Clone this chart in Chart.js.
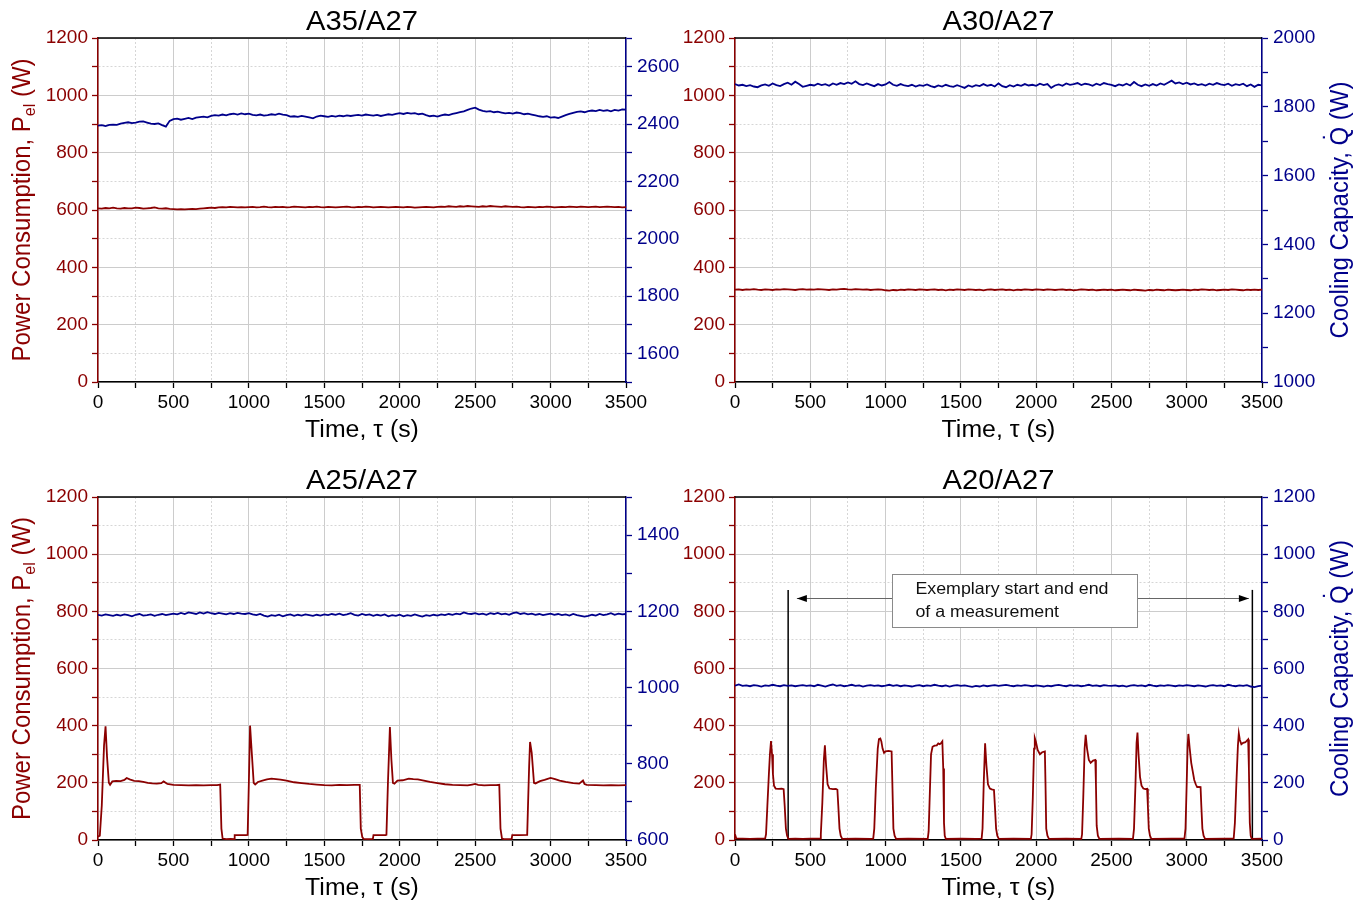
<!DOCTYPE html>
<html><head><meta charset="utf-8">
<script src="https://cdn.jsdelivr.net/npm/chart.js@4/dist/chart.umd.min.js"></script>
<style>
html,body{margin:0;padding:0;background:#fff;}
#wrap{position:relative;width:1367px;height:904px;overflow:hidden;background:#fff;}
canvas{position:absolute;}
</style></head><body><div id="wrap">
<canvas id="c1" width="680" height="452" style="left:0;top:0"></canvas>
<canvas id="c2" width="687" height="452" style="left:680px;top:0"></canvas>
<canvas id="c3" width="680" height="452" style="left:0;top:452px"></canvas>
<canvas id="c4" width="687" height="452" style="left:680px;top:452px"></canvas>
</div>
<script>
// ---------- DATA ----------
const timeGrid = [
0,25,50,75,100,125,150,175,200,225,250,275,300,325,350,375,400,425,450,475,
500,525,550,575,600,625,650,675,700,725,750,775,800,825,850,875,900,925,950,975,
1000,1025,1050,1075,1100,1125,1150,1175,1200,1225,1250,1275,1300,1325,1350,1375,1400,1425,1450,1475,
1500,1525,1550,1575,1600,1625,1650,1675,1700,1725,1750,1775,1800,1825,1850,1875,1900,1925,1950,1975,
2000,2025,2050,2075,2100,2125,2150,2175,2200,2225,2250,2275,2300,2325,2350,2375,2400,2425,2450,2475,
2500,2525,2550,2575,2600,2625,2650,2675,2700,2725,2750,2775,2800,2825,2850,2875,2900,2925,2950,2975,
3000,3025,3050,3075,3100,3125,3150,3175,3200,3225,3250,3275,3300,3325,3350,3375,3400,3425,3450,3475,
3500];

const a35Power = [
606,605,607,606,608,606,605,607,606,606,608,607,605,606,607,609,606,605,606,
604,603,602,603,602,603,604,603,605,
606,607,608,607,609,610,609,611,610,609,610,
609,610,611,609,610,612,610,609,611,610,611,609,610,612,611,610,609,611,610,612,
610,609,611,610,609,610,611,612,610,609,611,610,612,611,609,610,611,610,609,610,611,
610,609,611,610,608,609,610,611,610,609,611,612,611,613,612,611,613,612,614,613,
612,611,613,612,614,613,612,611,613,612,611,612,610,609,611,610,609,611,610,612,
611,609,610,611,610,612,611,610,612,611,610,611,612,610,611,612,611,610,611,609,610];
const a35Cooling = [
2394,2396,2393,2397,2398,2397,2401,2404,2406,2403,2405,2408,2409,2405,2401,2400,2402,2396,2391,2411,
2417,2419,2415,2418,2421,2417,2422,2424,2426,2423,2428,2431,2429,2433,2430,2434,2436,2433,2437,2434,
2436,2432,2430,2433,2429,2431,2434,2432,2436,2433,2431,2426,2427,2425,2428,2426,2423,2420,2426,2429,
2427,2425,2428,2426,2429,2427,2430,2428,2430,2432,2429,2433,2431,2429,2432,2428,2431,2434,2432,2435,
2438,2435,2439,2436,2438,2434,2436,2431,2427,2429,2426,2430,2433,2431,2435,2438,2441,2444,2449,2454,
2457,2450,2446,2443,2445,2441,2443,2440,2437,2439,2436,2440,2438,2434,2436,2433,2430,2427,2425,2427,
2422,2424,2421,2426,2431,2435,2439,2442,2444,2441,2445,2447,2445,2449,2446,2448,2444,2449,2447,2451,
2450];

const a30Power = [
322,323,321,323,322,324,322,321,323,322,321,323,322,324,323,322,321,323,324,322,
323,322,324,323,322,321,323,322,324,325,323,322,324,323,322,323,321,322,323,322,
320,319,321,320,322,321,323,322,321,323,322,321,322,323,321,322,320,322,321,323,
322,321,323,322,321,322,320,322,323,321,322,323,321,322,320,322,321,323,322,321,
323,322,321,323,322,321,322,323,321,322,320,321,323,322,321,322,320,321,322,321,
322,320,321,322,321,320,322,321,320,319,321,320,322,321,320,322,321,320,321,322,
321,320,322,321,323,322,321,322,320,321,322,321,323,322,321,320,322,321,322,321,
322];
const a30Cooling = [
1866,1862,1864,1860,1863,1859,1857,1862,1865,1861,1868,1863,1860,1866,1870,1864,1873,1866,1858,1861,
1864,1862,1867,1863,1866,1861,1868,1864,1869,1866,1871,1867,1874,1866,1863,1868,1864,1860,1866,1862,
1865,1872,1864,1861,1866,1862,1860,1864,1859,1863,1861,1865,1860,1857,1862,1859,1864,1860,1858,1863,
1859,1855,1862,1858,1863,1860,1866,1861,1864,1859,1868,1860,1857,1863,1859,1864,1861,1866,1862,1864,
1861,1867,1863,1866,1855,1862,1865,1861,1868,1864,1866,1869,1863,1867,1865,1861,1867,1863,1869,1866,
1864,1860,1865,1862,1867,1862,1872,1864,1860,1865,1861,1866,1862,1868,1864,1870,1876,1868,1871,1866,
1870,1865,1868,1863,1866,1862,1867,1864,1869,1865,1863,1867,1861,1866,1863,1867,1860,1865,1858,1864,
1862];

const a25Times = [
0,12,25,40,50,60,72,80,95,120,
150,175,190,210,240,270,300,330,360,390,
420,435,460,500,550,600,650,700,750,790,
810,818,826,850,880,903,906,940,980,992,
1000,1008,1020,1032,1042,1060,1090,1120,1150,1180,
1210,1250,1300,1350,1400,1450,1500,1550,1600,1650,
1700,1735,1742,1752,1760,1790,1822,1826,1860,1905,
1912,1922,1935,1945,1955,1965,1985,2020,2060,2090,
2120,2160,2200,2250,2300,2350,2400,2450,2480,2500,
2520,2560,2600,2640,2660,2668,2678,2690,2720,2742,
2746,2790,2845,2852,2858,2864,2875,2890,2900,2930,
2960,3000,3030,3060,3100,3150,3190,3215,3225,3240,
3300,3350,3400,3450,3500];
const a25Power = [
12,15,120,330,398,290,200,193,205,207,
206,210,217,212,207,206,203,200,198,197,
199,205,196,193,192,191,192,191,192,192,
194,40,5,3,4,3,17,17,17,18,
200,400,300,200,194,203,208,212,215,213,
211,208,202,199,196,194,192,191,193,192,
193,193,40,10,4,3,4,17,17,17,
18,200,395,280,200,197,208,209,215,213,
212,208,203,199,195,193,192,191,194,196,
193,191,192,192,193,40,5,3,3,4,
17,17,18,150,260,343,305,200,198,206,
210,217,213,208,203,199,197,208,196,193,
192,191,192,191,192];
const a25Cooling = [
1191,1189,1192,1190,1188,1191,1189,1192,1190,1187,1191,1193,1189,1190,1192,1188,1191,1193,1190,1192,
1194,1192,1196,1193,1197,1195,1193,1197,1194,1198,1195,1193,1196,1194,1192,1195,1193,1196,1194,1193,
1195,1192,1190,1193,1189,1186,1190,1188,1191,1187,1190,1192,1188,1191,1189,1192,1190,1188,1191,1189,
1192,1190,1193,1191,1194,1190,1192,1195,1191,1189,1193,1190,1192,1188,1191,1189,1192,1187,1190,1188,
1191,1187,1190,1188,1192,1189,1186,1190,1188,1191,1189,1192,1190,1193,1191,1194,1192,1197,1194,1193,
1195,1192,1194,1191,1195,1193,1196,1192,1194,1191,1195,1197,1193,1195,1192,1194,1191,1193,1190,1192,
1194,1191,1193,1190,1192,1189,1193,1190,1188,1186,1188,1191,1189,1193,1190,1192,1195,1191,1194,1192,
1193];

const a20Times = [
0,8,50,100,150,200,206,215,225,232,
239,246,252,259,270,290,310,323,330,338,
346,355,400,450,500,565,570,580,590,597,
605,615,627,650,670,680,686,694,702,712,
800,900,918,925,935,948,956,965,972,980,
990,1000,1020,1040,1045,1052,1060,1070,1150,1280,
1286,1292,1302,1312,1325,1340,1350,1360,1370,1377,
1383,1388,1393,1400,1500,1600,1638,1644,1652,1661,
1670,1680,1693,1705,1720,1726,1734,1742,1752,1850,
1965,1970,1978,1986,1991,1998,2010,2025,2040,2058,
2062,2067,2075,2085,2200,2300,2305,2313,2322,2329,
2338,2350,2362,2378,2393,2397,2402,2410,2420,2550,
2643,2650,2660,2667,2673,2680,2690,2700,2712,2725,
2737,2742,2748,2756,2765,2900,2985,2992,3000,3006,
3011,3020,3030,3040,3050,3060,3069,3080,3092,3097,
3104,3112,3122,3250,3312,3320,3330,3340,3346,3353,
3363,3375,3390,3400,3408,3413,3419,3425,3432,3500];
const a20Power = [
20,6,5,4,5,5,20,120,230,300,
346,300,230,190,180,179,180,178,120,40,
15,4,5,4,5,5,20,130,280,331,
260,195,180,178,179,176,120,40,15,4,
5,4,5,40,180,320,353,355,345,320,
305,310,312,310,200,40,15,4,5,4,
30,130,300,326,330,331,338,335,340,345,
250,60,15,4,5,4,5,40,200,338,
260,195,180,177,175,120,40,15,4,5,
4,20,150,320,357,345,315,300,307,310,
200,40,15,4,5,4,20,150,320,368,
320,280,270,278,280,200,50,15,4,5,
4,40,200,340,376,300,220,190,180,178,
179,120,40,15,4,5,5,40,200,330,
371,320,270,240,210,195,185,186,185,120,
40,15,4,5,5,60,200,330,373,350,
335,340,342,348,352,250,60,15,4,5];
const a20Cooling = [
540,544,539,541,538,542,540,537,541,539,543,540,538,542,539,541,538,540,542,539,
541,538,543,540,537,541,544,539,542,538,540,543,539,541,537,540,542,539,541,538,
540,543,539,542,538,541,539,537,540,542,538,541,539,543,540,538,541,537,540,542,
539,541,538,536,539,537,541,538,540,542,539,541,543,540,538,541,539,542,540,538,
541,539,537,540,538,541,543,540,538,542,539,541,538,540,543,539,541,538,542,540,
539,541,538,540,537,540,542,539,541,538,543,540,538,541,539,542,540,538,541,539,
542,540,538,541,539,537,540,542,539,541,538,543,540,538,541,539,542,537,535,538,
540];

// measurement start/end markers (A20/A27)
const markerTimes = [353, 3436];
const markerTop = 875;

// ---------- STYLE ----------
const FAM = '"Liberation Sans", Arial, Helvetica, sans-serif';
const RED = '#8b0000', BLUE = '#00008b';
const GRID_MAJ = '#cccccc', GRID_MIN = '#d6d6d6';
const HS = 1.08;

function drawRuns(ctx, x, y, angle, runs, color, size, align) {
  ctx.save();
  ctx.translate(x, y);
  ctx.scale(HS, 1);
  ctx.rotate(angle);
  ctx.fillStyle = color;
  ctx.textAlign = 'left';
  ctx.textBaseline = 'alphabetic';
  let total = 0;
  runs.forEach(r => { ctx.font = r.size + 'px ' + FAM; r._w = ctx.measureText(r.text).width; total += r._w; });
  let cx = align === 'left' ? 0 : -total / 2;
  const base = size * 0.36;
  runs.forEach(r => {
    ctx.font = r.size + 'px ' + FAM;
    ctx.fillText(r.text, cx, base + (r.dy || 0));
    if (r.dot) {
      ctx.textAlign = 'center';
      ctx.fillText('\u02D9', cx + r._w / 2, base - r.dot);
      ctx.textAlign = 'left';
    }
    cx += r._w;
  });
  ctx.restore();
}

const textPlugin = {
  id: 'panelText',
  afterDraw(chart, args, o) {
    const {ctx, chartArea: a} = chart;
    ctx.save();
    ctx.strokeStyle = '#000'; ctx.lineWidth = 1.5;
    ctx.beginPath(); ctx.moveTo(a.left, a.top); ctx.lineTo(a.right, a.top); ctx.stroke();
    ctx.restore();
    const cx = (a.left + a.right) / 2, cy = (a.top + a.bottom) / 2;
    drawRuns(ctx, cx, a.top - 17.5, 0, [{text: o.title, size: 27}], '#000', 27);
    drawRuns(ctx, cx, a.bottom + 47, 0, [{text: 'Time, \u03C4 (s)', size: 23}], '#000', 23);
    if (o.leftTitle) {
      drawRuns(ctx, a.left - 77.5, cy, -Math.PI / 2,
        [{text: 'Power Consumption, P', size: 24}, {text: 'el', size: 16, dy: 5}, {text: ' (W)', size: 24}], RED, 24);
    }
    if (o.rightTitle) {
      drawRuns(ctx, a.right + 77, cy, -Math.PI / 2,
        [{text: 'Cooling Capacity, ', size: 24}, {text: 'Q', size: 24, dot: 6}, {text: ' (W)', size: 24}], BLUE, 24);
    }
  }
};

const notePlugin = {
  id: 'note',
  afterDatasetsDraw(chart, args, o) {
    if (!o.show) return;
    const {ctx} = chart;
    const xs = chart.scales.x, ys = chart.scales.y;
    const X = v => xs.getPixelForValue(v), Y = v => ys.getPixelForValue(v);
    ctx.save();
    const ay = Math.round(Y(o.arrowY)) + 0.5;
    ctx.strokeStyle = '#666'; ctx.lineWidth = 1;
    ctx.beginPath();
    ctx.moveTo(X(o.leftTip), ay); ctx.lineTo(X(o.box[0]), ay);
    ctx.moveTo(X(o.box[1]), ay); ctx.lineTo(X(o.rightTip), ay);
    ctx.stroke();
    ctx.fillStyle = '#000';
    const head = (tx, dir) => {
      ctx.beginPath(); ctx.moveTo(tx, ay); ctx.lineTo(tx + dir * 10, ay - 3.5); ctx.lineTo(tx + dir * 10, ay + 3.5); ctx.closePath(); ctx.fill();
    };
    head(X(o.leftTip), 1); head(X(o.rightTip), -1);
    const bx = Math.round(X(o.box[0])) + 0.5, bx2 = Math.round(X(o.box[1])) + 0.5;
    const by = Math.round(Y(o.box[3])) + 0.5, by2 = Math.round(Y(o.box[2])) + 0.5;
    ctx.fillStyle = '#fff'; ctx.fillRect(bx, by, bx2 - bx, by2 - by);
    ctx.strokeStyle = '#8a8a8a'; ctx.lineWidth = 1; ctx.strokeRect(bx, by, bx2 - bx, by2 - by);
    ctx.restore();
    o.lines.forEach((ln, i) => {
      drawRuns(ctx, X(o.textX), Y(o.lineY[i]), 0, [{text: ln, size: 16.5}], '#111', 16.5, 'left');
    });
  }
};

function tickCb(step) { return v => (Math.abs(v % step) < 1e-6 ? String(v) : ''); }
function isMajor(c, step) { return c.tick && Math.abs(c.tick.value % step) < 1e-6; }

function makeChart(cfg) {
  const datasets = [
    {data: cfg.pT.map((t, i) => ({x: t, y: cfg.pV[i]})), borderColor: RED, borderWidth: 1.8, yAxisID: 'y', pointRadius: 0, tension: 0},
    {data: cfg.qT.map((t, i) => ({x: t, y: cfg.qV[i]})), borderColor: BLUE, borderWidth: 1.8, yAxisID: 'y1', pointRadius: 0, tension: 0}
  ];
  if (cfg.markers) {
    cfg.markers.forEach(t => datasets.push({data: [{x: t, y: 0}, {x: t, y: markerTop}], borderColor: '#000', borderWidth: 1.5, yAxisID: 'y', pointRadius: 0}));
  }
  const tickFont = {family: FAM, size: 19};
  return new Chart(document.getElementById(cfg.id), {
    type: 'line',
    data: {datasets},
    plugins: [textPlugin, notePlugin],
    options: {
      responsive: false, animation: false, devicePixelRatio: 1, events: [],
      layout: {padding: {top: cfg.padTop, left: 0, right: 0, bottom: 0}},
      plugins: {
        legend: {display: false}, tooltip: {enabled: false}, title: {display: false},
        panelText: {title: cfg.title, leftTitle: cfg.leftTitle, rightTitle: cfg.rightTitle},
        note: cfg.note || {show: false}
      },
      scales: {
        x: {
          type: 'linear', position: 'bottom', min: 0, max: 3500,
          afterFit: s => { s.height = cfg.xH; },
          ticks: {stepSize: 250, autoSkip: false, maxRotation: 0, minRotation: 0, color: '#000', font: tickFont, padding: 3, callback: tickCb(500)},
          grid: {color: c => isMajor(c, 500) ? GRID_MAJ : GRID_MIN, lineWidth: 1, tickLength: 6, tickColor: '#000', tickWidth: 1.3},
          border: {color: '#000', width: 1.5, dash: c => isMajor(c, 500) ? [] : [2, 2]}
        },
        y: {
          type: 'linear', position: 'left', min: 0, max: 1200,
          afterFit: s => { s.width = cfg.leftW; },
          ticks: {stepSize: 100, autoSkip: false, color: RED, font: tickFont, padding: 4, callback: tickCb(200)},
          grid: {color: c => isMajor(c, 200) ? GRID_MAJ : GRID_MIN, lineWidth: 1, tickLength: 6, tickColor: RED, tickWidth: 1.3},
          border: {color: RED, width: 1.5, dash: c => isMajor(c, 200) ? [] : [2, 2]}
        },
        y1: {
          type: 'linear', position: 'right', min: cfg.qMin, max: cfg.qMax,
          afterFit: s => { s.width = cfg.rightW; },
          ticks: {stepSize: 100, autoSkip: false, color: BLUE, font: tickFont, padding: 5, callback: tickCb(200)},
          grid: {drawOnChartArea: false, tickLength: 6, tickColor: BLUE, tickWidth: 1.3},
          border: {color: BLUE, width: 1.5}
        }
      }
    }
  });
}

makeChart({id: 'c1', title: 'A35/A27', pT: timeGrid, pV: a35Power, qT: timeGrid, qV: a35Cooling,
  qMin: 1500, qMax: 2700, leftW: 98, rightW: 54, padTop: 38, xH: 70, leftTitle: true});
makeChart({id: 'c2', title: 'A30/A27', pT: timeGrid, pV: a30Power, qT: timeGrid, qV: a30Cooling,
  qMin: 1000, qMax: 2000, leftW: 55, rightW: 105, padTop: 38, xH: 70, rightTitle: true});
makeChart({id: 'c3', title: 'A25/A27', pT: a25Times, pV: a25Power, qT: timeGrid, qV: a25Cooling,
  qMin: 600, qMax: 1500, leftW: 98, rightW: 54, padTop: 45, xH: 64, leftTitle: true});
makeChart({id: 'c4', title: 'A20/A27', pT: a20Times, pV: a20Power, qT: timeGrid, qV: a20Cooling,
  qMin: 0, qMax: 1200, leftW: 55, rightW: 105, padTop: 45, xH: 64, rightTitle: true, markers: markerTimes,
  note: {show: true, box: [1043, 2670, 744, 929], arrowY: 846, leftTip: 411, rightTip: 3413,
    textX: 1198, lineY: [881, 802], lines: ['Exemplary start and end', 'of a measurement']}});
</script>
</body></html>
